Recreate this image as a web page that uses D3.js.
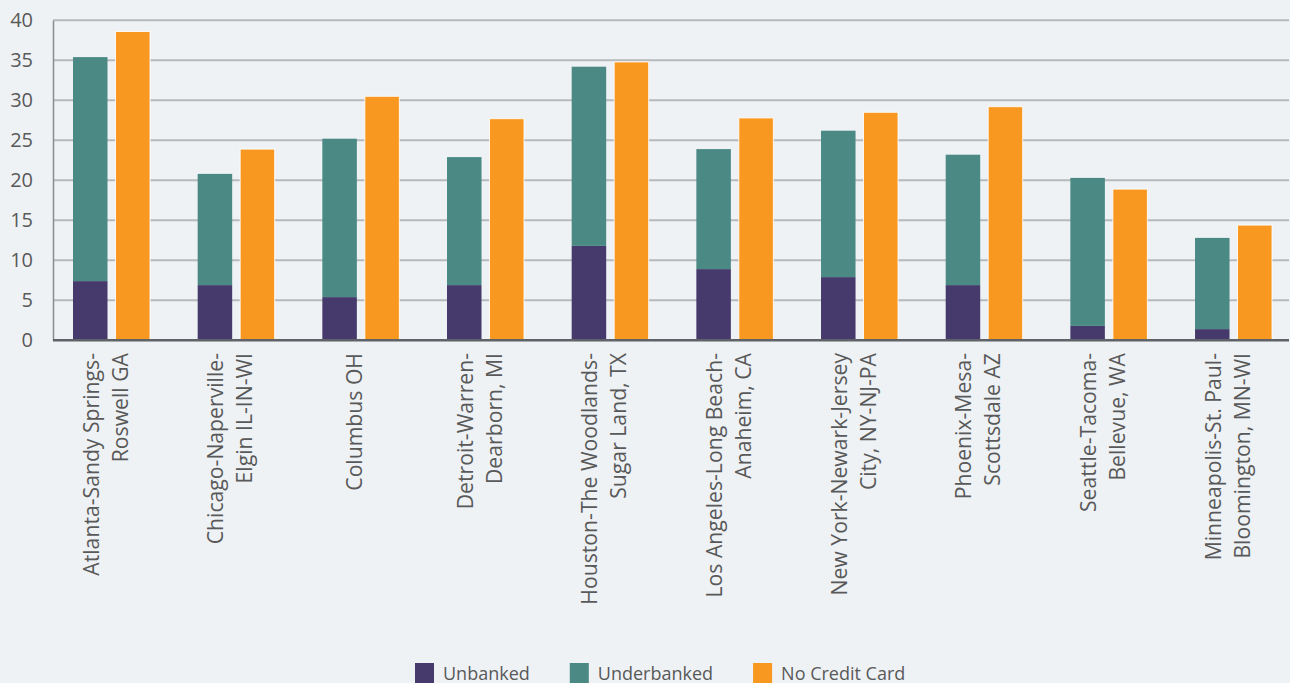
<!DOCTYPE html>
<html>
<head>
<meta charset="utf-8">
<script src="https://cdn.jsdelivr.net/npm/d3@7"></script>
<style>
  html, body { margin: 0; padding: 0; background: #eef2f5; }
  svg { display: block; font-family: "Open Sans", "Noto Sans", sans-serif; }
</style>
</head>
<body>
<svg id="chart" width="1290" height="683"></svg>
<script>
// Metro areas, each label split into its display lines
const categories = [
  "Atlanta-Sandy Springs-Roswell GA",
  "Chicago-Naperville-Elgin IL-IN-WI",
  "Columbus OH",
  "Detroit-Warren-Dearborn, MI",
  "Houston-The Woodlands-Sugar Land, TX",
  "Los Angeles-Long Beach-Anaheim, CA",
  "New York-Newark-Jersey City, NY-NJ-PA",
  "Phoenix-Mesa-Scottsdale AZ",
  "Seattle-Tacoma-Bellevue, WA",
  "Minneapolis-St. Paul-Bloomington, MN-WI"
];
const labelLines = [
  ["Atlanta-Sandy Springs-", "Roswell GA"],
  ["Chicago-Naperville-", "Elgin IL-IN-WI"],
  ["Columbus OH"],
  ["Detroit-Warren-", "Dearborn, MI"],
  ["Houston-The Woodlands-", "Sugar Land, TX"],
  ["Los Angeles-Long Beach-", "Anaheim, CA"],
  ["New York-Newark-Jersey", "City, NY-NJ-PA"],
  ["Phoenix-Mesa-", "Scottsdale AZ"],
  ["Seattle-Tacoma-", "Bellevue, WA"],
  ["Minneapolis-St. Paul-", "Bloomington, MN-WI"]
];

// Percent of households
const unbanked     = [7.4, 6.9, 5.4, 6.9, 11.8, 8.9, 7.9, 6.9, 1.8, 1.4];
const underbanked  = [28.0, 13.9, 19.8, 16.0, 22.4, 15.0, 18.3, 16.3, 18.5, 11.4];
const noCreditCard = [38.6, 23.9, 30.5, 27.7, 34.8, 27.8, 28.5, 29.2, 18.9, 14.4];

const yTicks = [0, 5, 10, 15, 20, 25, 30, 35, 40];
const seriesNames = ["Unbanked", "Underbanked", "No Credit Card"];
const colors = { "Unbanked": "#453a6b", "Underbanked": "#4a8984", "No Credit Card": "#f89820" };

const svg = d3.select("#chart");
const plotLeft = 53, plotRight = 1289, plotTop = 20.3, plotBottom = 340.3;

const y = d3.scaleLinear().domain([0, 40]).range([plotBottom, plotTop]);
const x = d3.scaleBand().domain(categories).range([plotLeft, 1299.7]).padding(0);
const x1 = d3.scaleBand().domain(["stack", "card"]).range([20, 97]).paddingInner(0.188).paddingOuter(0);

// Horizontal gridlines
svg.append("g").selectAll("line").data(yTicks.filter(t => t > 0)).join("line")
  .attr("x1", plotLeft).attr("x2", plotRight)
  .attr("y1", d => y(d)).attr("y2", d => y(d))
  .attr("stroke", "#b7babd").attr("stroke-width", 2);

// Y axis labels
const yAxis = d3.axisLeft(y).tickValues(yTicks).tickSize(0).tickPadding(20);
const yg = svg.append("g").attr("transform", `translate(${plotLeft},0)`).call(yAxis);
yg.select(".domain").attr("stroke", "#8a8d90").attr("stroke-width", 1.5);
yg.selectAll("text").attr("font-size", 20).attr("fill", "#595959")
  .attr("font-family", "'Open Sans', sans-serif");

// Stacked unbanked / underbanked bars
const rows = categories.map((c, i) => ({ cat: c, "Unbanked": unbanked[i], "Underbanked": underbanked[i] }));
const stacked = d3.stack().keys(["Unbanked", "Underbanked"])(rows);
svg.append("g").selectAll("g").data(stacked).join("g")
  .attr("fill", d => colors[d.key])
  .selectAll("rect").data(d => d).join("rect")
  .attr("x", d => x(d.data.cat) + x1("stack"))
  .attr("width", x1.bandwidth())
  .attr("y", d => y(d[1]))
  .attr("height", d => y(d[0]) - y(d[1]));

// No credit card bars
svg.append("g").selectAll("rect").data(categories).join("rect")
  .attr("x", (c) => x(c) + x1("card"))
  .attr("width", x1.bandwidth())
  .attr("y", (c, i) => y(noCreditCard[i]))
  .attr("height", (c, i) => y(0) - y(noCreditCard[i]))
  .attr("fill", colors["No Credit Card"])
  .attr("stroke", "#ffffff").attr("stroke-opacity", 0.85).attr("stroke-width", 1);

// Baseline
svg.append("line").attr("x1", plotLeft).attr("x2", plotRight)
  .attr("y1", y(0)).attr("y2", y(0))
  .attr("stroke", "#5f6266").attr("stroke-width", 2.5);

// Rotated category labels
const lineGap = 29;
const labelTop = 353;
const catG = svg.append("g").selectAll("g").data(categories).join("g")
  .attr("transform", c => {
    const cx = x(c) + (x1("stack") + x1("card") + x1.bandwidth()) / 2 + 1.5;
    return `translate(${cx},${labelTop}) rotate(-90)`;
  });
catG.each(function (c, i) {
  const lines = labelLines[i];
  const g = d3.select(this);
  lines.forEach((ln, k) => {
    g.append("text")
      .attr("x", 0)
      .attr("y", (k - (lines.length - 1) / 2) * lineGap)
      .attr("text-anchor", "end")
      .attr("font-size", 21.2)
      .attr("fill", "#595959")
      .text(ln);
  });
});

// Legend
const legend = svg.append("g");
let lx = 415;
seriesNames.forEach(name => {
  const item = legend.append("g").attr("transform", `translate(${lx},663)`);
  item.append("rect").attr("width", 19).attr("height", 20).attr("fill", colors[name]);
  const t = item.append("text").attr("x", 28).attr("y", 17)
    .attr("font-size", 18).attr("fill", "#595959").text(name);
  lx += 28 + t.node().getComputedTextLength() + 40;
});
</script>
</body>
</html>
